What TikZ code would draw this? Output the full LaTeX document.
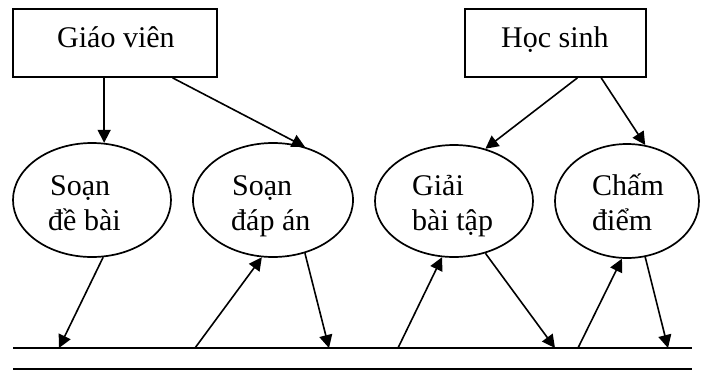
\documentclass[tikz,border=0pt]{standalone}
\usepackage{fontspec}
\setmainfont{Liberation Serif}
\usetikzlibrary{shapes.geometric,arrows.meta,calc}
\begin{document}
\begin{tikzpicture}[x=1pt,y=-1pt,
  every node/.style={font=\fontsize{30}{35}\selectfont},
  actor/.style={draw,line width=1.7pt,rectangle,inner sep=0pt},
  task/.style={draw,line width=1.7pt,ellipse,inner sep=0pt},
  txt/.style={anchor=base west,inner sep=0pt},
  flow/.style={line width=1.6pt,-{Triangle[length=13pt,width=13pt]}},
  store/.style={line width=2pt}]
\useasboundingbox (0,0) rectangle (702,373);

% actors
\node[actor,minimum width=204pt,minimum height=68pt] (gv) at (115,43) {};
\node[txt] (gvt) at (57,47) {Giáo viên};
\node[actor,minimum width=181pt,minimum height=68pt] (hs) at (555.5,43) {};
\node[txt] (hst) at (501,47) {Học sinh};

% tasks
\node[task,minimum width=158pt,minimum height=114pt] (e1) at (92,200) {};
\node[task,minimum width=160pt,minimum height=114pt] (e2) at (273,200) {};
\node[task,minimum width=158pt,minimum height=112pt] (e3) at (454,201) {};
\node[task,minimum width=144pt,minimum height=114pt] (e4) at (627,201) {};
\node[txt] (t1a) at (50,195) {Soạn};
\node[txt] (t1b) at (48,230) {đề bài};
\node[txt] (t2a) at (232,195) {Soạn};
\node[txt] (t2b) at (231,230) {đáp án};
\node[txt] (t3a) at (412,195) {Giải};
\node[txt] (t3b) at (412,230) {bài tập};
\node[txt] (t4a) at (592,195) {Chấm};
\node[txt] (t4b) at (592,230) {điểm};

% data store: two parallel lines
\coordinate (sl) at (13,348);
\coordinate (sr) at (692,348);
\coordinate (bl) at (13,369);
\coordinate (br) at (692,369);
\draw[store] (sl) -- (sr);
\draw[store] (bl) -- (br);

% points on the store line
\coordinate (p1) at (59,348);
\coordinate (p2) at (195,348);
\coordinate (p3) at (329,348);
\coordinate (p4) at (398,348);
\coordinate (p5) at (555,348);
\coordinate (p6) at (578,348);
\coordinate (p7) at (668,348);

% actors to tasks
\draw[flow] (gv.south -| e1.78) -- (e1.78);
\draw[flow] ($(gv.south west)!0.78!(gv.south east)$) -- (e2.59);
\draw[flow] ($(hs.south west)!0.62!(hs.south east)$) -- (e3.59);
\draw[flow] ($(hs.south west)!0.75!(hs.south east)$) -- (e4.72);

% tasks and store
\draw[flow] (e1.-79) -- (p1);
\draw[flow] (p2) -- (e2.-101);
\draw[flow] (e2.-59) -- (p3);
\draw[flow] (p4) -- (e3.-102);
\draw[flow] (e3.-59) -- (p5);
\draw[flow] (p6) -- (e4.-95);
\draw[flow] (e4.-72) -- (p7);
\end{tikzpicture}
\end{document}
